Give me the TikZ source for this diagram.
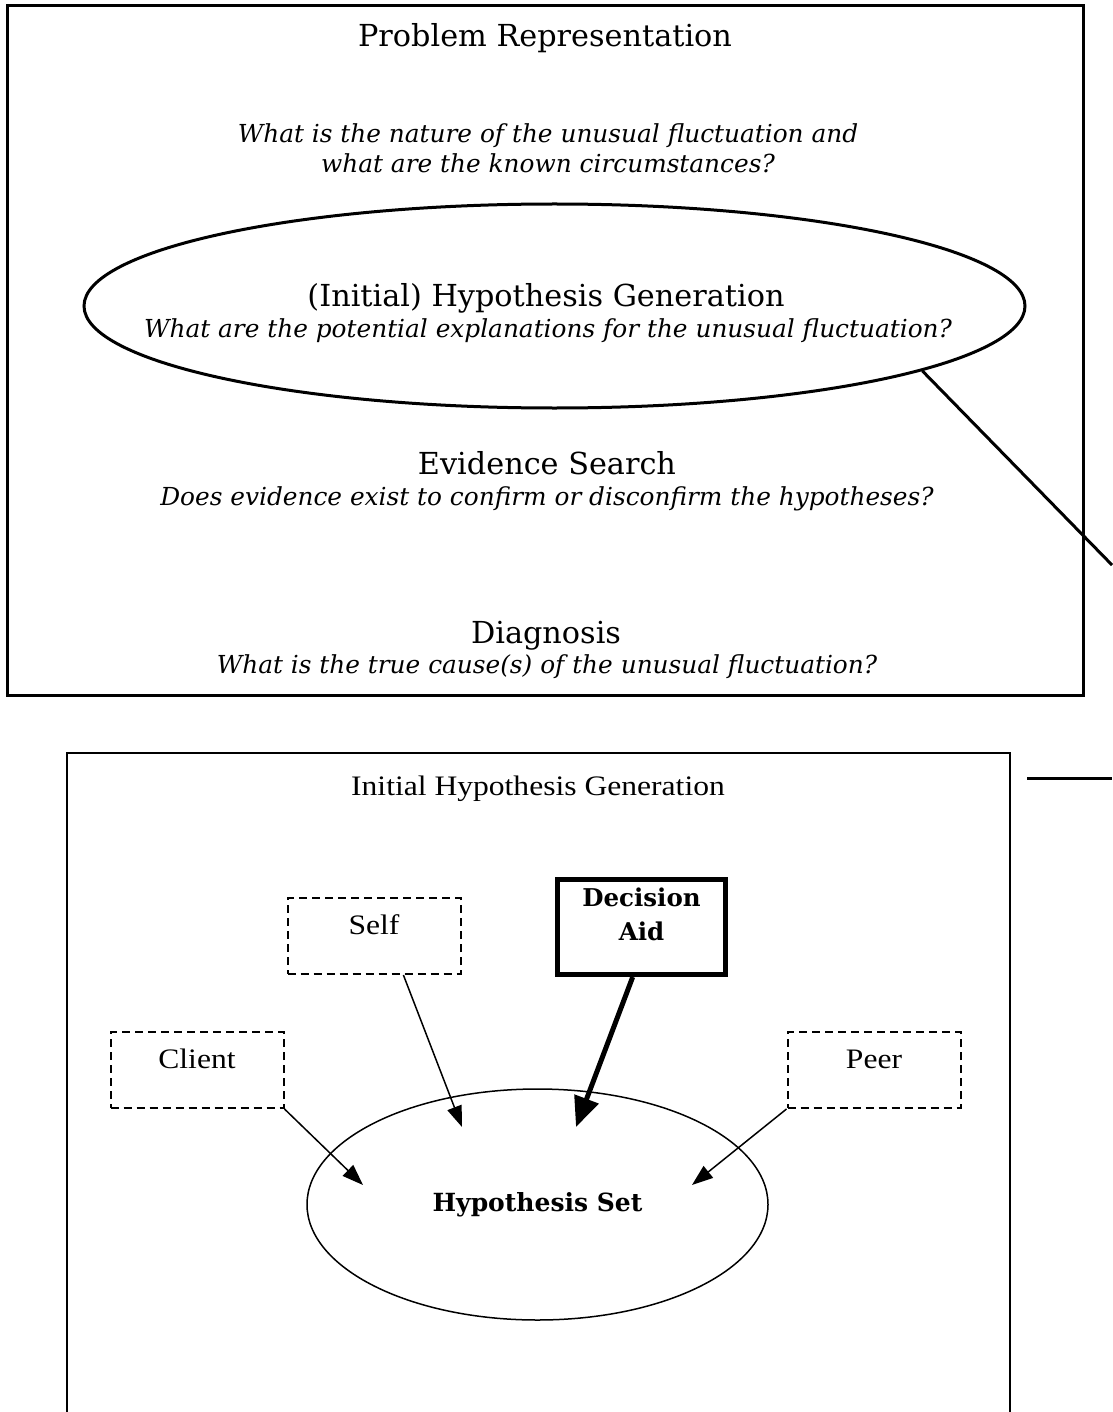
\documentclass[tikz,border=0pt]{standalone}
\usepackage{fontspec}
\setmainfont{DejaVu Serif}
\newfontfamily\timesfont[FakeStretch=1.12]{Liberation Serif}
\usetikzlibrary{shapes.geometric,arrows.meta,positioning}

\begin{document}
\begin{tikzpicture}[x=1pt, y=-1pt,
    heading/.style={anchor=base, inner sep=0pt, font=\fontsize{30.3}{32}\selectfont},
    question/.style={anchor=base, inner sep=0pt, font=\fontsize{24.8}{30}\selectfont\itshape},
    srcbox/.style={draw, line width=2pt, dash pattern=on 8pt off 5pt, minimum width=173pt, minimum height=76pt, text height=20pt, text depth=24pt, font=\timesfont\fontsize{28.2}{34}\selectfont},
    feed/.style={line width=1.5pt, -{Triangle[length=21pt, width=15pt]}},
    boldfeed/.style={line width=5pt, -{Triangle[length=30pt, width=25pt]}}]
		\useasboundingbox (0,0) rectangle (1112,1412);
		% Upper box: the diagnostic process
		\draw[line width=3pt] (7,6) rectangle (1083,695);
		\node[heading] (probrep) at (545,47) {Problem Representation};
		\node[question] (probq1) at (548,143) {What is the nature of the unusual fluctuation and};
		\node[question] (probq2) at (548,173) {what are the known circumstances?};
		
		\node[draw, ellipse, line width=3pt, minimum width=941pt, minimum height=204pt, inner sep=0pt] (hypgen) at (554.5,306) {};
		\node[heading] (hyphead) at (546,307) {(Initial) Hypothesis Generation};
		\node[question] (hypq) at (548,337) {What are the potential explanations for the unusual fluctuation?};
		
		\node[heading] (evihead) at (547,474) {Evidence Search};
		\node[question] (eviq) at (547,505) {Does evidence exist to confirm or disconfirm the hypotheses?};
		
		\node[heading] (diaghead) at (546,643) {Diagnosis};
		\node[question] (diagq) at (547,673) {What is the true cause(s) of the unusual fluctuation?};
		
		% Lower box: zoom on hypothesis generation
		\draw[line width=2.5pt] (67,1412) |- (1010,753) -- (1010,1412);
		\node[anchor=base, font=\timesfont\fontsize{28.2}{34}\selectfont] (ihg) at (538,795) {Initial Hypothesis Generation};
		
		\node[srcbox] (self) at (374,936) {Self};
		\node[srcbox] (client) at (197,1070) {Client};
		\node[srcbox] (peer) at (874,1070) {Peer};
		\node[draw, line width=5pt, minimum width=168pt, minimum height=95pt, align=center, text depth=26pt, font=\fontsize{24.5}{34}\selectfont\bfseries] (decaid) at (641.5,927) {Decision\\Aid};
		
		\node[draw, ellipse, line width=1.5pt, minimum width=461pt, minimum height=231pt, inner sep=0pt, font=\fontsize{25}{28}\selectfont\bfseries] (hypset) at (537.5,1204.5) {Hypothesis Set};
		
		\coordinate (clienttip) at (363,1185);
		\coordinate (selftip) at (462,1127);
		\coordinate (aidtip) at (576,1127);
		\coordinate (peertip) at (692,1185);
		\draw[feed] (client.south east) -- (clienttip);
		\draw[feed] (self.-53) -- (selftip);
		\draw[boldfeed] (decaid.-100) -- (aidtip);
		\draw[feed] (peer.south west) -- (peertip);
		
		% links between the two boxes
		\coordinate (zoomend) at (1112,565);
		\draw[line width=3pt] (hypgen.-10) -- (zoomend);
		\coordinate (barstart) at (1027,778);
		\coordinate (barend) at (1112,778);
		\draw[line width=3pt] (barstart) -- (barend);
	\end{tikzpicture}
\end{document}
